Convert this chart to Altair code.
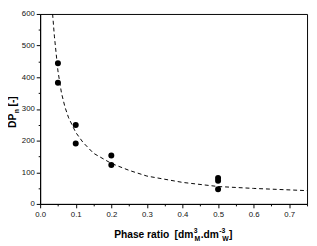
import altair as alt
import pandas as pd

# measured points
ratio = [0.05, 0.05, 0.1, 0.1, 0.2, 0.2, 0.5, 0.5, 0.5]
dpn = [444, 383, 249, 191, 153, 123, 82, 73, 46]

# dashed fit curve
fit_x = [0.035, 0.04, 0.05, 0.06, 0.07, 0.08, 0.1, 0.12, 0.15, 0.2, 0.25, 0.3, 0.4, 0.5, 0.6, 0.75]
fit_y = [600, 530, 420, 350, 305, 272, 226, 195, 160, 128, 106, 88, 68, 55, 49, 42]

x_major = [0.0, 0.1, 0.2, 0.3, 0.4, 0.5, 0.6, 0.7]
x_minor = [0.05, 0.15, 0.25, 0.35, 0.45, 0.55, 0.65, 0.75]
y_major = [0, 100, 200, 300, 400, 500, 600]
y_minor = [50, 150, 250, 350, 450, 550]

pts = pd.DataFrame({"x": ratio, "y": dpn})
fit = pd.DataFrame({"x": fit_x, "y": fit_y})
one = pd.DataFrame({"k": [0]})

MAIN = "Liberation Sans, Arial, sans-serif"
LBL = "Liberation Sans, Arial, sans-serif"

xs = alt.Scale(domain=[0, 0.75], nice=False, zero=False)
ys = alt.Scale(domain=[0, 600], nice=False)

common = dict(grid=False, title=None, domainColor="black", tickColor="black",
              labelFont=LBL, labelFontSize=8, labelColor="#111",
              labelFlush=False, labelOverlap=False)

x_axis = alt.Axis(values=x_major, format=".1f", tickSize=4, labelPadding=3,
                  orient="bottom", **common)
y_axis = alt.Axis(values=y_major, format="d", tickSize=4, labelPadding=2,
                  orient="left", **common)
x_axis_minor = alt.Axis(values=x_minor, tickSize=2, labels=False, domain=False,
                        orient="bottom", grid=False, title=None, tickColor="black")
y_axis_minor = alt.Axis(values=y_minor, tickSize=2, labels=False, domain=False,
                        orient="left", grid=False, title=None, tickColor="black")

curve = alt.Chart(fit).mark_line(
    color="black", strokeDash=[4, 3], strokeWidth=1, clip=True
).encode(
    x=alt.X("x:Q", scale=xs, axis=x_axis),
    y=alt.Y("y:Q", scale=ys, axis=y_axis),
)

dots = alt.Chart(pts).mark_circle(color="black", opacity=1, size=38).encode(
    x=alt.X("x:Q", scale=xs, axis=x_axis_minor),
    y=alt.Y("y:Q", scale=ys, axis=y_axis_minor),
)

def label(txt, x, y, size, angle=0):
    kw = dict(text=txt, align="left", baseline="alphabetic", font=MAIN,
              fontSize=size, fontWeight="bold", color="black")
    if angle:
        kw["angle"] = angle
    return alt.Chart(one).mark_text(**kw).encode(x=alt.value(x), y=alt.value(y))

# title pieces (plot coordinates; plot origin at page (41,11))
ox, oy = 41, 11
base = 241 - oy
x0 = 117 - ox
xt = [
    label("Phase ratio", x0, base, 10.5),
    label("[dm", x0 + 62, base, 10.5),
    label("3", x0 + 81.8, base - 5, 7),
    label("M", x0 + 82.5, base + 3, 7),
    label(".dm", x0 + 88.8, base, 10.5),
    label("-3", x0 + 107.8, base - 5, 7),
    label("W", x0 + 111, base + 3, 7),
    label("]", x0 + 118, base, 10.5),
]
yb = 16.5 - ox
yt = [
    label("DP", yb, 128 - oy, 10.5, angle=270),
    label("n", yb + 2.5, 113 - oy, 7, angle=270),
    label("[-]", yb, 106 - oy, 10.5, angle=270),
]

chart = alt.layer(curve, dots, *xt, *yt).resolve_axis(
    x="independent", y="independent"
).properties(
    width=274, height=195,
    autosize=alt.AutoSizeParams(type="none"),
    padding={"left": 33, "top": 3, "right": 2, "bottom": 38},
).configure_view(stroke="black", strokeWidth=1)

chart.save("out.html", embed_options={"renderer": "svg", "actions": False})
